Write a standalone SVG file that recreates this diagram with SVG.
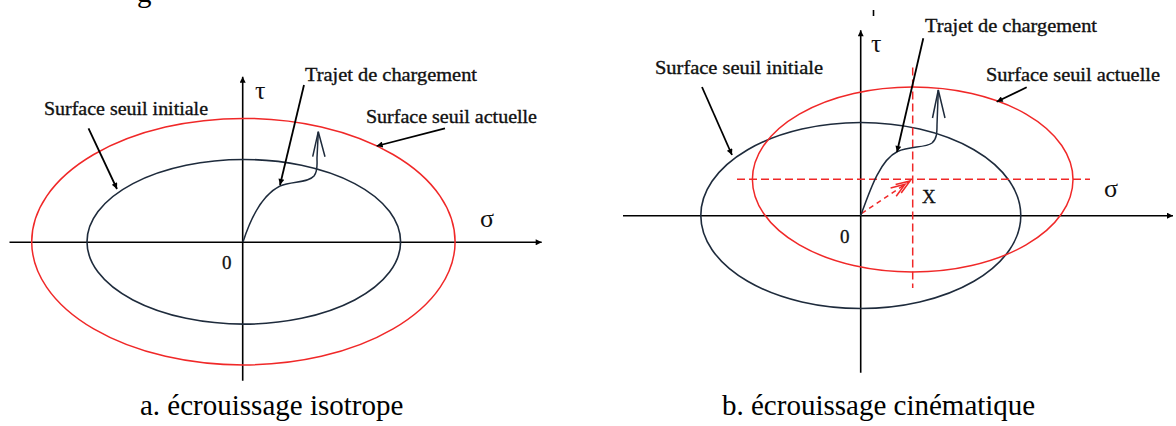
<svg xmlns="http://www.w3.org/2000/svg" width="1176" height="426" viewBox="0 0 1176 426">
<style>
.axis{stroke:#000;stroke-width:1.6;fill:none}
.blk{stroke:#1e2b3c;stroke-width:1.6;fill:none}
.red{stroke:#f02828;stroke-width:1.5;fill:none}
.rdash{stroke:#f02828;stroke-width:1.5;fill:none;stroke-dasharray:8 4}
.path{stroke:#1e2b3c;stroke-width:1.5;fill:none}
.lead{stroke:#000;stroke-width:1.8;fill:none}
.lbl{font-family:"Liberation Serif","Times New Roman",serif;font-size:19px;fill:#111;stroke:#111;stroke-width:0.35}
.sym{font-family:"Liberation Serif","Times New Roman",serif;font-size:26px;fill:#111}
.num{font-family:"Liberation Serif","Times New Roman",serif;font-size:19px;fill:#111;stroke:#111;stroke-width:0.3}
.cap{font-family:"Liberation Serif","Times New Roman",serif;font-size:29px;fill:#000}
</style>
<defs>
<marker id="ax" viewBox="0 0 10 10" refX="10" refY="5" markerWidth="8" markerHeight="6" markerUnits="userSpaceOnUse" orient="auto"><path d="M0,0 L10,5 L0,10 z" fill="#000"/></marker>
<marker id="la" viewBox="0 0 10 10" refX="10" refY="5" markerWidth="9" markerHeight="6" markerUnits="userSpaceOnUse" orient="auto"><path d="M0,0 L10,5 L0,10 z" fill="#000"/></marker>
</defs>

<text class="cap" x="137" y="2">g</text>

<!-- Panel a -->
<g id="a-axes">
<line class="axis" x1="9.5" y1="242.3" x2="541.7" y2="242.3" marker-end="url(#ax)"/>
<line class="axis" x1="242.7" y1="380.7" x2="242.7" y2="76.7" marker-end="url(#ax)"/>
<text class="sym" x="255" y="99">τ</text>
<text class="sym" x="480" y="227">σ</text>
<text class="num" x="222" y="269">0</text>
</g>
<g id="a-initial">
<ellipse class="blk" cx="243.8" cy="241.8" rx="156.8" ry="82.3"/>
<text class="lbl" x="44" y="115" textLength="164" lengthAdjust="spacingAndGlyphs">Surface seuil initiale</text>
</g>
<g id="a-actuelle">
<ellipse class="red" cx="243.4" cy="241.7" rx="211.7" ry="123.3"/>
<text class="lbl" x="366" y="123" textLength="171" lengthAdjust="spacingAndGlyphs">Surface seuil actuelle</text>
</g>
<g id="a-trajet">
<path class="path" d="M243,242 C250,220 262,195 280,186 C292,181 308,183 314,176 C318,171 317,165 317,158 L318.3,131.7"/>
<polyline class="path" points="312.7,156.7 318.3,131.7 325,156.7"/>
<text class="lbl" x="305" y="81" textLength="172" lengthAdjust="spacingAndGlyphs">Trajet de chargement</text>
</g>
<text class="cap" x="140" y="415">a. écrouissage isotrope</text>

<!-- Panel b -->
<g id="b-axes">
<line class="axis" x1="623" y1="215.7" x2="1173" y2="215.7" marker-end="url(#ax)"/>
<line class="axis" x1="860.7" y1="372.7" x2="860.7" y2="30.3" marker-end="url(#ax)"/>
<line class="axis" x1="873.5" y1="10" x2="873.5" y2="16"/>
<text class="sym" x="871" y="52">τ</text>
<text class="sym" x="1104" y="197">σ</text>
<text class="num" x="840" y="243">0</text>
<text class="num" x="922" y="203">X</text>
</g>
<g id="b-initial">
<ellipse class="blk" cx="860.8" cy="215.5" rx="160" ry="93"/>
<text class="lbl" x="655" y="74" textLength="168" lengthAdjust="spacingAndGlyphs">Surface seuil initiale</text>
</g>
<g id="b-actuelle">
<ellipse class="red" cx="912.7" cy="179.5" rx="160.3" ry="92.5"/>
<line class="rdash" x1="737" y1="179.3" x2="1090" y2="179.3"/>
<line class="rdash" x1="912.7" y1="67.4" x2="912.7" y2="288"/>
<text class="lbl" x="986" y="81" textLength="174" lengthAdjust="spacingAndGlyphs">Surface seuil actuelle</text>
</g>
<g id="b-vector">
<line class="red" x1="861.7" y1="213.3" x2="910" y2="181" stroke-dasharray="5 4"/>
<polyline class="red" points="901.2,193 910,181 895.6,184.6"/>
<polyline class="red" points="896.2,196.3 905,184.3 890.6,187.9"/>
</g>
<g id="b-trajet">
<path class="path" d="M860.7,215.7 C870,190 880,160 897.5,151.5 C910,146 925,148 932,143 C937,139 937,132 937,125 L938.3,90"/>
<polyline class="path" points="932.5,118 938.3,90 945,118"/>
<text class="lbl" x="925" y="32" textLength="172" lengthAdjust="spacingAndGlyphs">Trajet de chargement</text>
</g>
<text class="cap" x="722" y="415">b. écrouissage cinématique</text>

<g id="connectors">
<line class="lead" x1="88.5" y1="128.3" x2="117" y2="189" marker-end="url(#la)"/>
<line class="lead" x1="304" y1="85" x2="280" y2="185" marker-end="url(#la)"/>
<line class="lead" x1="445" y1="128.3" x2="376.7" y2="146" marker-end="url(#la)"/>
<line class="lead" x1="702" y1="87" x2="732" y2="155" marker-end="url(#la)"/>
<line class="lead" x1="923.3" y1="38.3" x2="897" y2="152" marker-end="url(#la)"/>
<line class="lead" x1="1026.7" y1="87.3" x2="996.7" y2="101.7" marker-end="url(#la)"/>
</g>
</svg>
